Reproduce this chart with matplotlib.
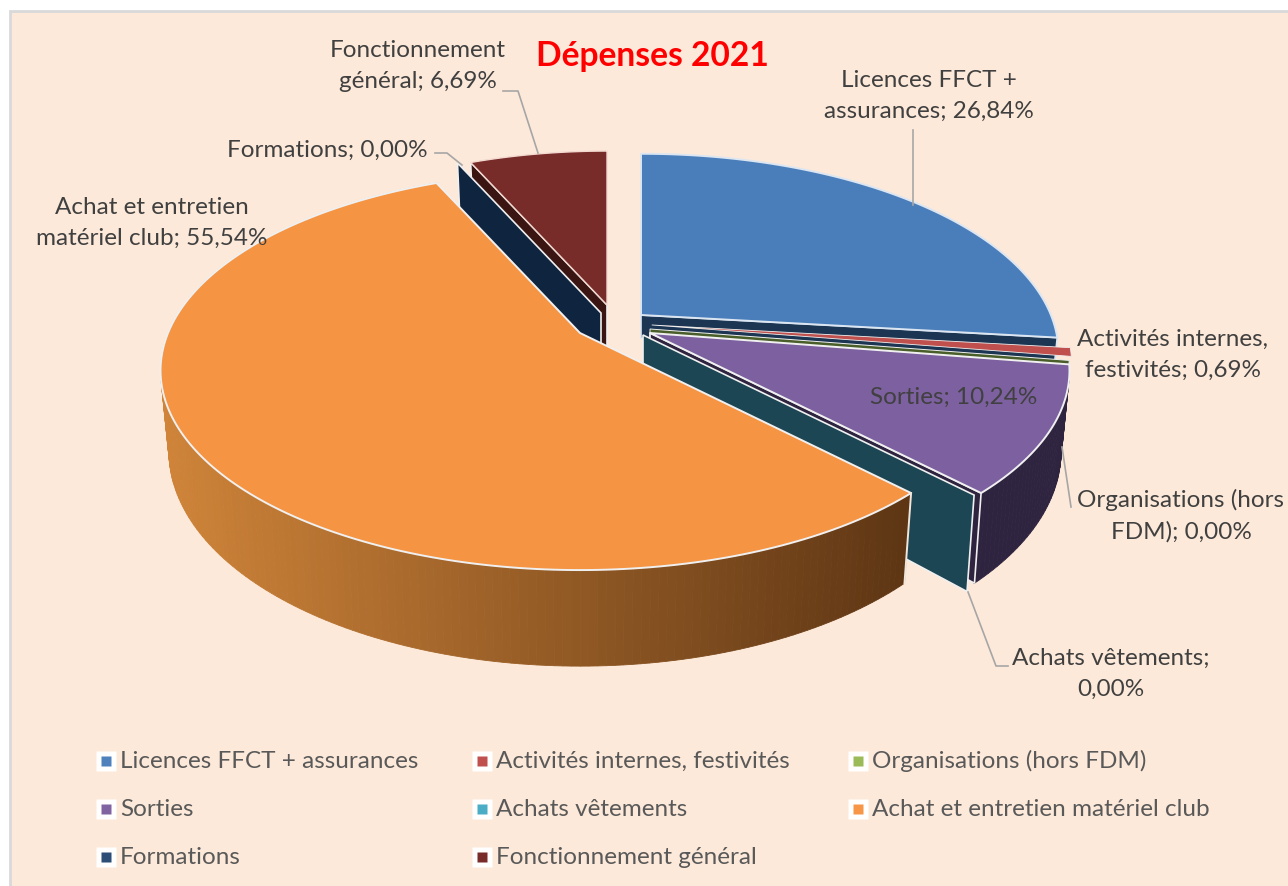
#!/usr/bin/env python3
"""Dépenses 2021 - exploded 3D style pie, projected by hand"""
import numpy as np, matplotlib
matplotlib.use('Agg')
import matplotlib.pyplot as plt
from matplotlib.patches import Rectangle

plt.rcParams['font.family'] = ['Lato', 'DejaVu Sans']

# Data
names = ['Licences FFCT + assurances', 'Activités internes, festivités',
         'Organisations (hors FDM)', 'Sorties', 'Achats vêtements',
         'Achat et entretien matériel club', 'Formations', 'Fonctionnement général']
values = [26.84, 0.69, 0.00, 10.24, 0.00, 55.54, 0.00, 6.69]

# Colours
top_colors = ['#4A7EBB', '#C0504D', '#9BBB59', '#7D60A0', '#4BACC6', '#F59443', '#2C4D75', '#772C2A']
side_colors = ['#1B3552', '#7A2E2C', '#4A5E2A', '#2F2440', '#1C4653', '#5E3614', '#0F243E', '#3A1512']

# Where each exploded slice has its tip, in pixels
tip_x = [641, 652, 650, 650, 643, 580, 601, 607]
tip_y = [315, 325, 329, 333, 335, 333, 313, 305]
shrink = [0.995, 1, 1, 1, 1, 1, 1, 0.95]

RX, RY, PERSP, DEPTH, CONVERGE = 412, 192.5, 0.188, 78, 0.98
edges = np.concatenate([[0], np.cumsum(values)]) * 3.6

fig = plt.figure(figsize=(12.88, 8.86), dpi=100, facecolor='white')
ax = fig.add_axes([0, 0, 1, 1])
ax.set_xlim(0, 1288)
ax.set_ylim(886, 0)
ax.axis('off')
ax.add_patch(Rectangle((10, 11), 1300, 900, fc='#FDE9D9', ec='#D9D9D9', lw=2))


def project(i, deg, z=0.0):
    t = np.radians(deg)
    w = 1 + PERSP * np.cos(t)
    dx = RX * shrink[i] * np.sin(t) / w
    dy = RY * shrink[i] * np.cos(t) / w
    conv = 1 - (1 - CONVERGE) * z
    return tip_x[i] + dx * conv, tip_y[i] - dy + z * DEPTH / w


def top(i, edge='#F0F0F0', lw=1.4):
    ts = np.arange(edges[i], edges[i + 1] + 0.01, 1.0)
    ts = np.append(ts, edges[i + 1])
    xs, ys = project(i, ts)
    ax.fill(np.r_[tip_x[i], xs], np.r_[tip_y[i], ys], fc=top_colors[i], ec=edge, lw=lw, joinstyle='round')


def cut(i, deg, frac=1.0, edge='#F0F0F0', lw=1.2):
    x0, y0 = project(i, deg)
    x1, y1 = project(i, deg, frac)
    ax.fill([tip_x[i], x0, x1, tip_x[i]],
            [tip_y[i], y0, y1, tip_y[i] + frac * DEPTH],
            fc=side_colors[i], ec=edge, lw=lw)


def wall(i, t0, t1, left=None, right=None):
    ts = np.arange(t0, t1 + 0.5, 1.0)
    for a, b in zip(ts[:-1], ts[1:]):
        xa, ya = project(i, a)
        xb, yb = project(i, b)
        xc, yc = project(i, b, 1)
        xd, yd = project(i, a, 1)
        col = side_colors[i]
        if left is not None:
            f = np.clip(((xa + xb) / 2 - 160) / (908 - 160), 0, 1)
            col = tuple(np.array(left) * (1 - f) + np.array(right) * f)
        ax.fill([xa, xb, xc, xd], [ya, yb, yc, yd], fc=col, ec=col, lw=0.6)


# back to front
cut(7, edges[7])
top(7, edge='#F3D9D0', lw=1)
cut(6, edges[6])

cut(0, edges[1], frac=0.3, edge='#DCE6F2')
top(0, edge='#DCE6F2')
top(1, lw=0.6)
cut(2, edges[3], frac=0.2, lw=0.7)

wall(3, edges[3], edges[4])
cut(3, edges[4])
top(3)
cut(4, edges[4], frac=1.07)

orange_left = matplotlib.colors.to_rgb('#CF8439')
orange_right = matplotlib.colors.to_rgb('#5E3614')
wall(5, edges[5], edges[6], orange_left, orange_right)
x0, y0 = project(5, edges[5])
x1, y1 = project(5, edges[5], 1)
ax.plot([x0, x1], [y0, y1], color='#F0E6DC', lw=1.4)
top(5)

# Leader lines
leader_x = [[503, 518, 538], [913, 913], [435, 447, 462], [1071, 1062], [968, 996, 1008]]
leader_y = [[91, 91, 153], [130, 205], [153, 153, 165], [507, 447], [592, 666, 666]]
for lx, ly in zip(leader_x, leader_y):
    ax.plot(lx, ly, color='#A6A6A6', lw=1.2)

# Data labels
label_text = ['Licences FFCT +\nassurances; 26,84%', 'Activités internes,\nfestivités; 0,69%',
              'Organisations (hors\nFDM); 0,00%', 'Sorties; 10,24%', 'Achats vêtements;\n0,00%',
              'Achat et entretien\nmatériel club; 55,54%', 'Formations; 0,00%',
              'Fonctionnement\ngénéral; 6,69%']
label_x = [929, 1173, 1181, 954, 1111, 152, 327, 418]
label_y = [96, 355, 516, 397, 674, 223, 150, 66]
for txt, lx, ly in zip(label_text, label_x, label_y):
    ax.text(lx, ly, txt, ha='center', va='center', fontsize=17.5, color='#404040', linespacing=1.6)

ax.text(652, 56, 'Dépenses 2021', ha='center', va='center', fontsize=24.2,
        fontweight='bold', color='#FF0000')

# Legend
legend_x = [106, 482, 858]
legend_y = [761, 809, 857]
legend_colors = ['#4F81BD', '#C0504D', '#9BBB59', '#8064A2', '#4BACC6', '#F79646', '#2C4D75', '#772C2A']
for k, (name, col) in enumerate(zip(names, legend_colors)):
    lx, ly = legend_x[k % 3], legend_y[k // 3]
    ax.plot(lx, ly, 's', ms=14, color='white', mec='none')
    ax.plot(lx, ly, 's', ms=7, color=col, mec='none')
    ax.text(lx + 14, ly, name, ha='left', va='center', fontsize=17.5, color='#595959')

fig.savefig('out.png', dpi=100)
